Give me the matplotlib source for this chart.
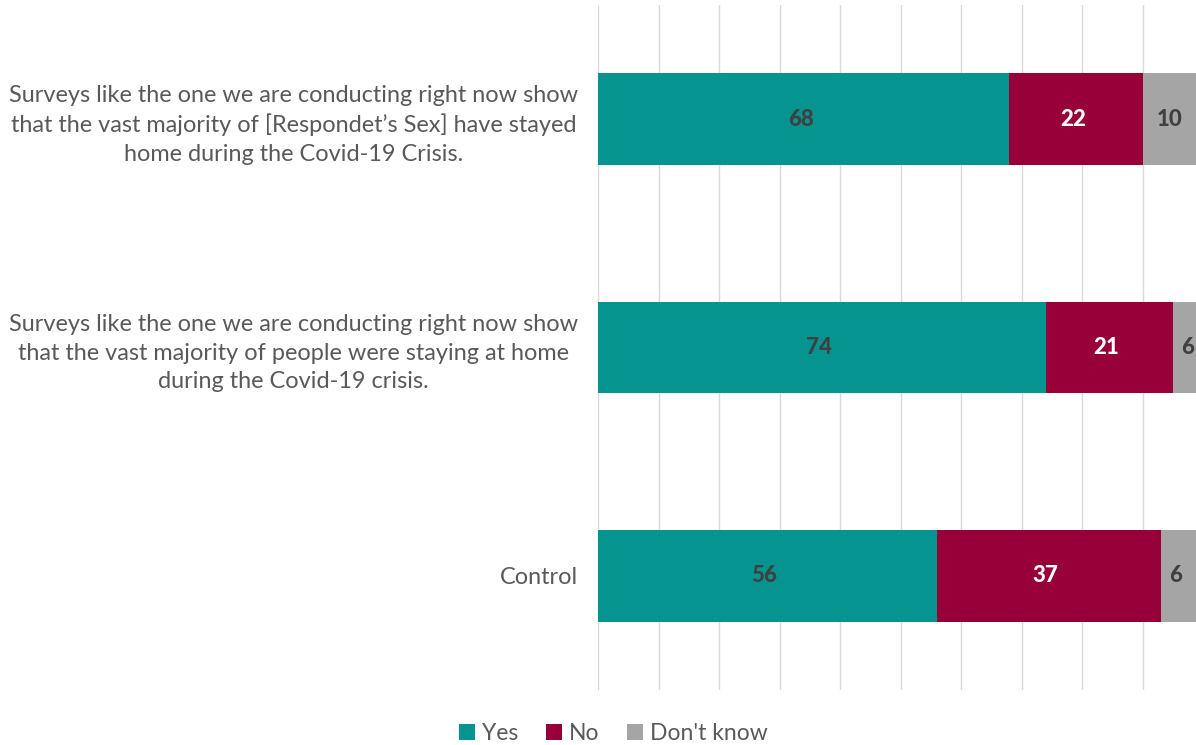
import matplotlib.pyplot as plt
import numpy as np

questions = [
    "Surveys like the one we are conducting right now show\nthat the vast majority of [Respondet\u2019s Sex] have stayed\nhome during the Covid-19 Crisis.",
    "Surveys like the one we are conducting right now show\nthat the vast majority of people were staying at home\nduring the Covid-19 crisis.",
    "Control",
]
yes = [68, 74, 56]
no = [22, 21, 37]
dont_know = [10, 6, 6]

series = [("Yes", yes, "#069491", "#404040"),
          ("No", no, "#970038", "white"),
          ("Don't know", dont_know, "#A5A5A5", "#404040")]

plt.rcParams['font.family'] = ['Lato', 'DejaVu Sans']

fig = plt.figure(figsize=(11.96, 7.45), dpi=100)
ax = fig.add_axes([0.5, 0.0738, 0.5059, 0.9195])

y = np.arange(len(questions))
left = np.zeros(len(questions))
for name, vals, color, txtcol in series:
    bars = ax.barh(y, vals, left=left, height=0.4, color=color, label=name, zorder=2)
    for b, v in zip(bars, vals):
        ax.text(b.get_x() + b.get_width() / 2 - 0.5, b.get_y() + b.get_height() / 2, str(v),
                ha='center', va='center', color=txtcol, fontsize=16, fontweight='black', zorder=3)
    left += np.array(vals)

ax.set_xlim(0, 100)
ax.set_ylim(2.5, -0.5)
ax.set_xticks(np.arange(0, 101, 10))
ax.xaxis.grid(True, color='#d9d9d9', linewidth=1, zorder=0)
ax.tick_params(axis='x', bottom=False, labelbottom=False)
ax.tick_params(axis='y', left=False, pad=11)
ax.set_yticks(y)
ax.set_yticklabels(questions, fontsize=16.9, color='#595959', multialignment='center',
                   linespacing=1.42)
for s in ax.spines.values():
    s.set_visible(False)

fig.legend(loc='lower center', bbox_to_anchor=(0.513, -0.026), ncol=3, frameon=False,
           fontsize=16.5, labelcolor='#595959', handlelength=0.7, handleheight=0.7,
           handletextpad=0.3, columnspacing=1.2)

fig.savefig("out.png", dpi=100)
